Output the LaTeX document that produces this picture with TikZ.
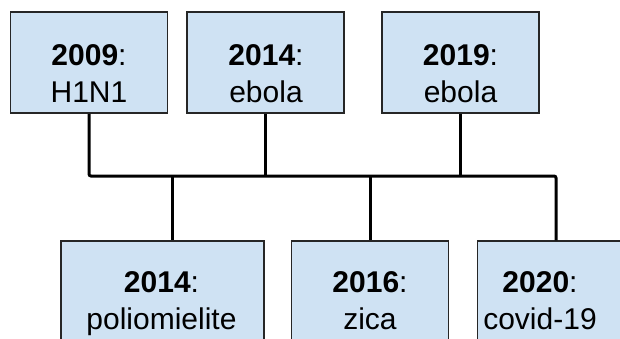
\documentclass[tikz,border=0pt]{standalone}
\usepackage{fontspec}
\setmainfont{Liberation Sans}
\usepackage{tikz}
\usetikzlibrary{calc}
\definecolor{boxblue}{HTML}{CFE2F3}

\begin{document}
\begin{tikzpicture}[x=1pt, y=-1pt,
  box/.style={draw=black!85, line width=1.5pt, fill=boxblue, minimum width=157pt, minimum height=101pt, inner sep=0pt},
  yr/.style={align=center, font=\fontsize{30}{37}\selectfont, inner sep=0pt, anchor=base},
  wire/.style={line width=3pt, rounded corners=2pt}]
\useasboundingbox (0,0) rectangle (620,338);
\clip (0,0) rectangle (620,338);
%top row
\node[box] (b2009) at (89,62.5) {};
\node[box] (b2014e) at (265.5,62.5) {};
\node[box] (b2019) at (460.5,62.5) {};
\node[yr] (t2009) at (89,102) {\textbf{2009}:\\H1N1};
\node[yr] (t2014e) at (266,102) {\textbf{2014}:\\ebola};
\node[yr] (t2019) at (460.5,102) {\textbf{2019}:\\ebola};

%bottom row
\node[box, minimum width=203pt] (b2014p) at (162.5,291.5) {};
\node[box] (b2016) at (370,291.5) {};
\node[box] (b2020) at (556,291.5) {};
\node[yr] (t2014p) at (161.5,329) {\textbf{2014}:\\poliomielite};
\node[yr] (t2016) at (370,329) {\textbf{2016}:\\zica};
\node[yr] (t2020) at (540,329) {\textbf{2020}:\\covid-19};

%connectors
\coordinate (bus) at (0,176);
\coordinate (j2014p) at ([xshift=9.5pt]b2014p.north);
\draw[wire] (b2009.south) |- (b2020.north |- bus) -- (b2020.north);
\draw[wire] (b2014e.south) -- (b2014e.south |- bus);
\draw[wire] (b2019.south) -- (b2019.south |- bus);
\draw[wire] (j2014p |- bus) -- (j2014p);
\draw[wire] (b2016.north |- bus) -- (b2016.north);
\end{tikzpicture}
\end{document}
